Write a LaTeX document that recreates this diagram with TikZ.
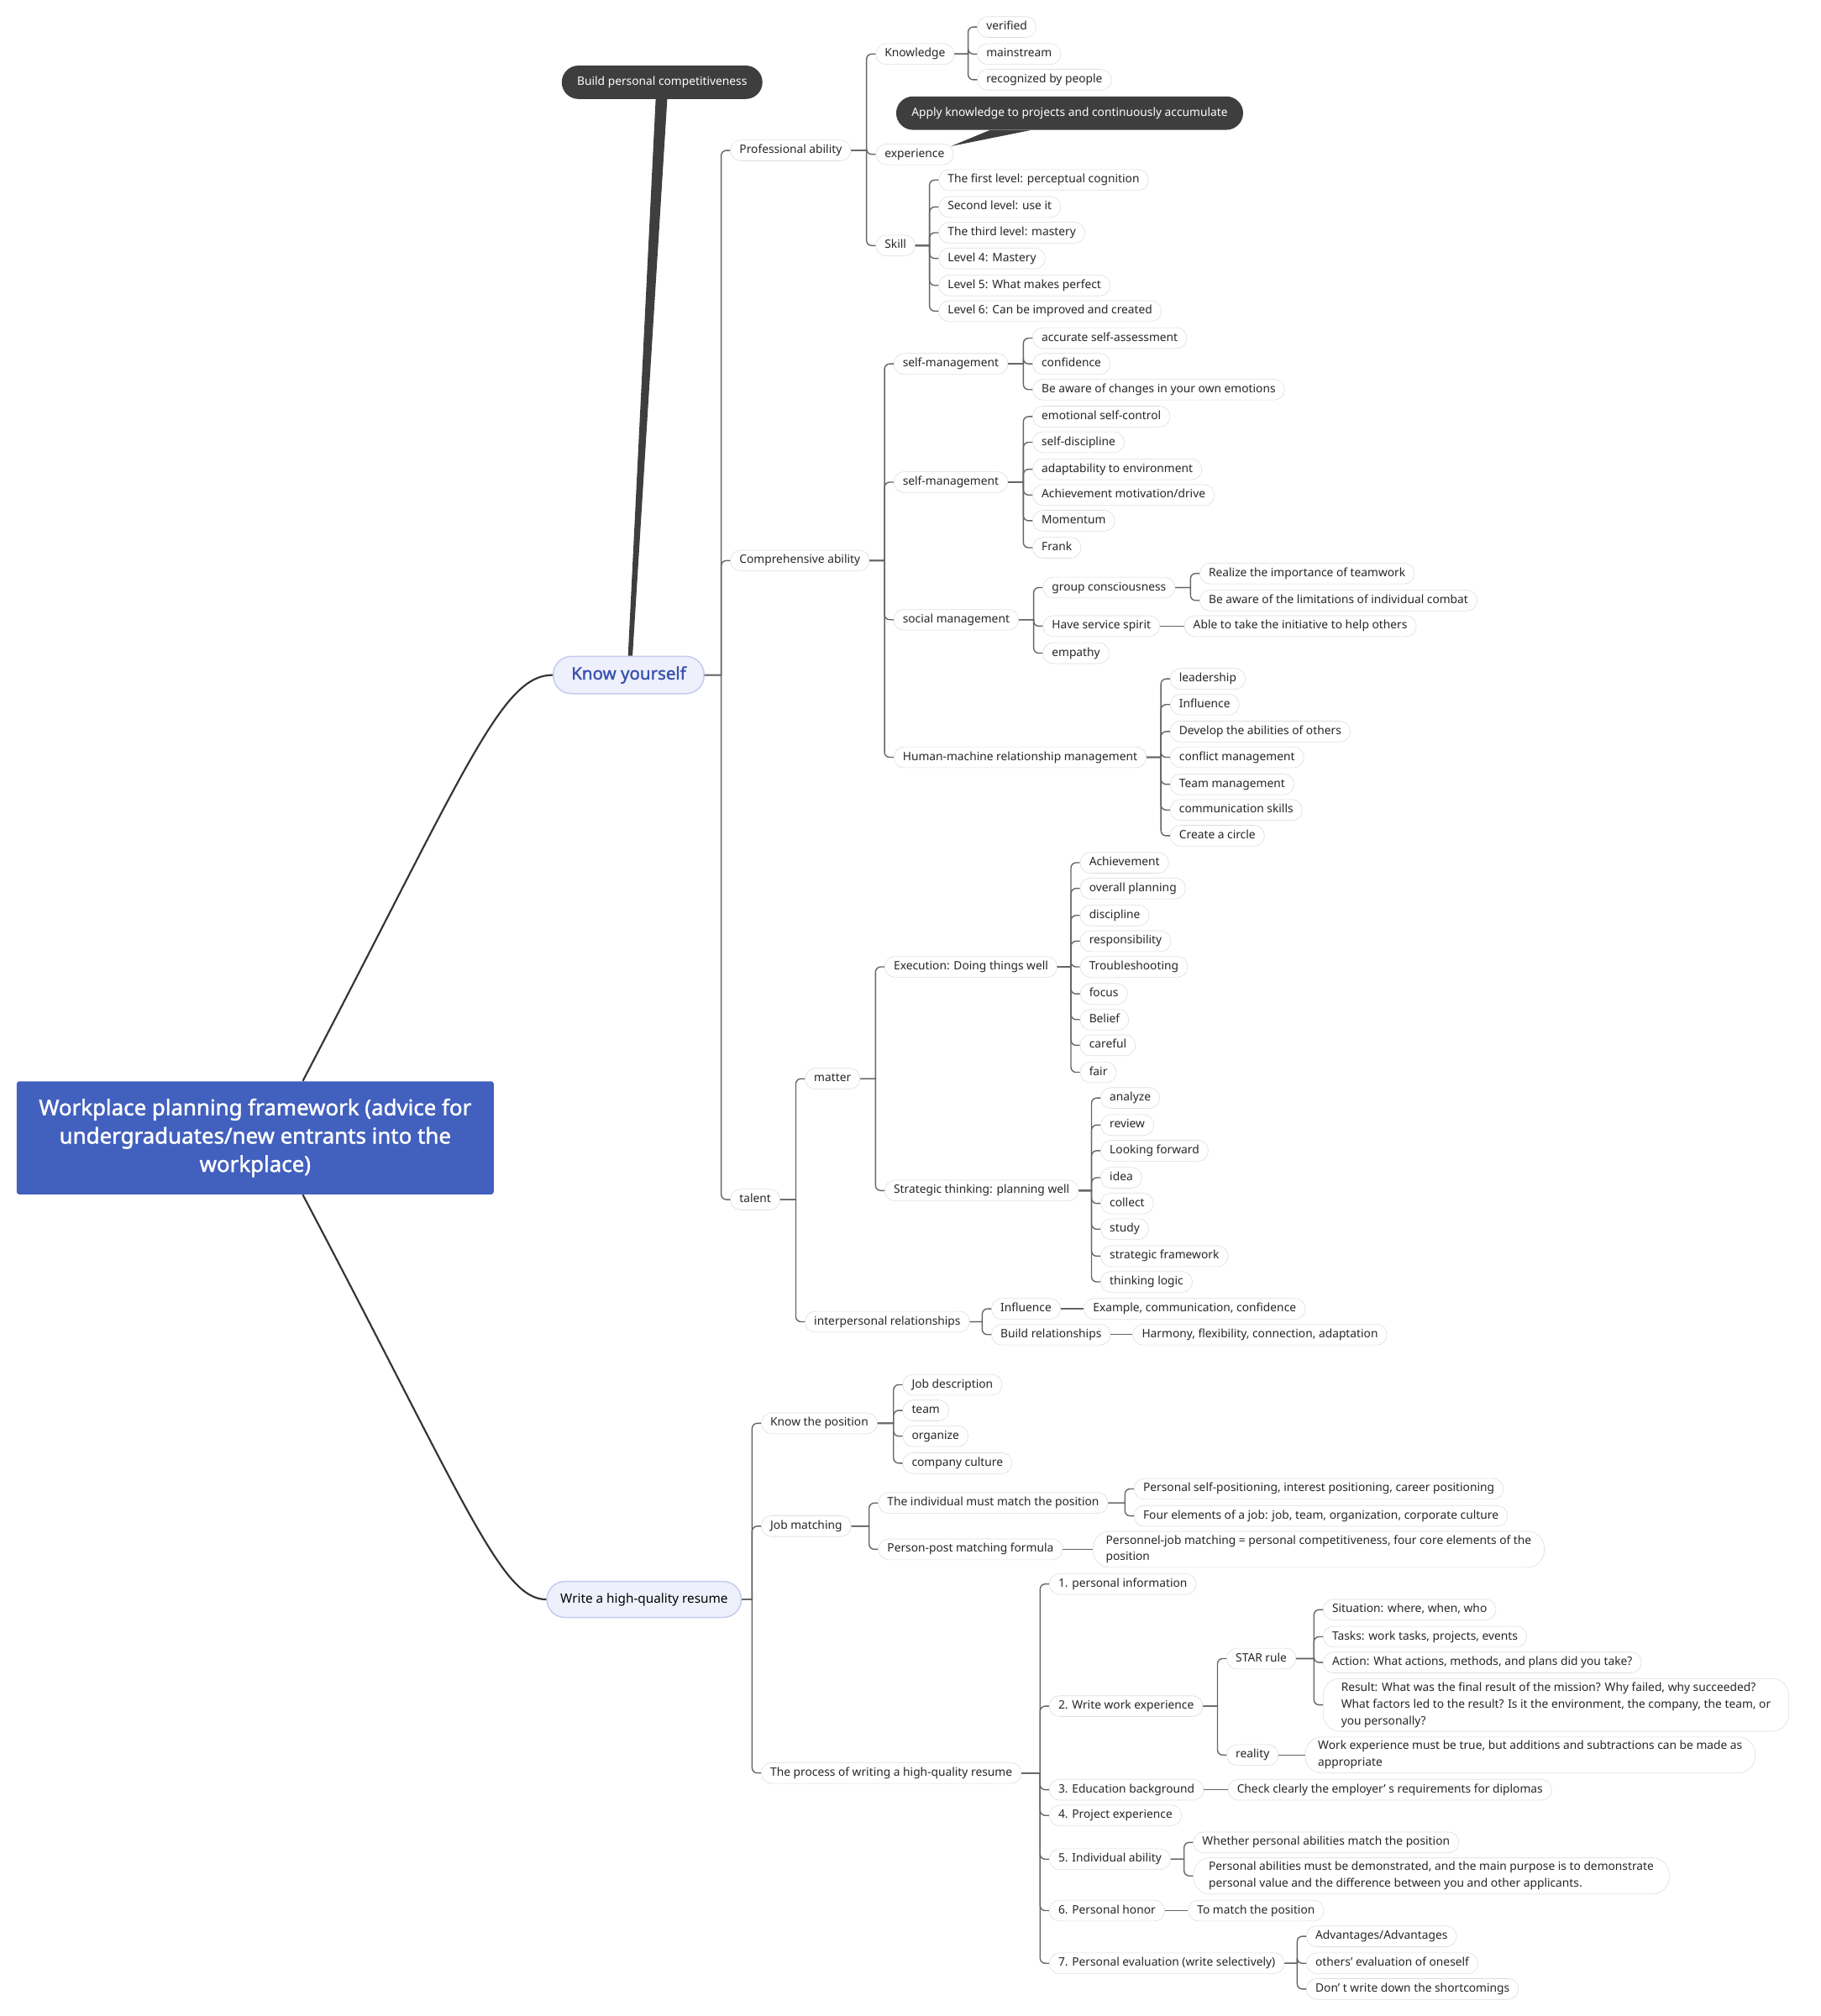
\documentclass[tikz,border=0pt]{standalone}
\usepackage{fontspec}
\setmainfont{Noto Sans}
\newfontfamily\heavysans{Noto Sans}[FakeBold=1.6]
\definecolor{rootblue}{RGB}{66,96,189}
\definecolor{kyfill}{RGB}{238,240,252}
\definecolor{kyline}{RGB}{198,204,238}
\definecolor{kytext}{RGB}{58,84,176}
\definecolor{darknote}{RGB}{62,62,62}
\definecolor{linegray}{RGB}{100,100,100}
\definecolor{pillline}{RGB}{222,222,222}

\begin{document}
\begin{tikzpicture}[x=1pt,y=-1pt,
	pill/.style={draw=pillline, fill=white, rounded corners=8pt, anchor=west, inner xsep=7pt, inner ysep=3.6pt, text=black!85, font=\fontsize{9}{13}\selectfont},
	leaf/.style={pill, text height=6.8pt, text depth=2.2pt},
	para/.style={pill, align=left, rounded corners=13pt, inner xsep=10pt, inner ysep=3pt},
	topic/.style={draw=kyline, fill=kyfill, line width=1pt, rounded corners=14pt, inner xsep=14pt, minimum height=29pt},
	note/.style={fill=darknote, text=white, rounded corners=13pt, minimum height=26pt, inner xsep=12pt, font=\fontsize{9}{11}\selectfont},
	link/.style={linegray, line width=0.9pt, to path={(\tikztostart.east) -- ([xshift=-7pt]\tikztotarget.west |- \tikztostart.east) [rounded corners=4pt] |- (\tikztotarget.west)}},
	plain/.style={linegray, line width=0.9pt},
	trunk/.style={black!80, line width=1.4pt}]
	\useasboundingbox (0,-1) rectangle (1416,1567);

	\node[fill=rootblue, text=white, rounded corners=2pt, minimum width=371pt, minimum height=88pt, align=center, font=\heavysans\fontsize{16.9}{22}\selectfont] (root) at (198.5,884) {Workplace planning framework (advice for\\undergraduates/new entrants into the\\workplace)};
	\node[topic, text=kytext, font=\heavysans\fontsize{13.4}{15}\selectfont] (know) at (489,524) {Know yourself};
	\node[topic, minimum height=28pt, inner xsep=10.5pt, font=\fontsize{10}{12}\selectfont] (resume) at (501,1243) {Write a high-quality resume};
	\node[note] (bpc) at (515,63) {Build personal competitiveness};

	\draw[trunk] ([xshift=37pt]root.north) .. controls (363,596) and (390,524) .. (know.west);
	\draw[trunk] ([xshift=37pt]root.south) .. controls (363,1170) and (390,1243) .. (resume.west);
	\fill[darknote] ([xshift=-5pt]bpc.south) -- ([xshift=4pt]bpc.south) -- ([xshift=3pt]know.north) -- ([xshift=-0.5pt]know.north) -- cycle;

	\node[leaf] (pro) at (568,116) {Professional ability};
	\node[leaf] (comp) at (568,435) {Comprehensive ability};
	\node[leaf] (tal) at (568,932) {talent};

	\node[leaf] (kn) at (681,41) {Knowledge};
	\node[leaf] (exp) at (681,119) {experience};
	\node[leaf] (skill) at (681,190) {Skill};
	\node[leaf] (kn1) at (760,20) {verified};
	\node[leaf] (kn2) at (760,41) {mainstream};
	\node[leaf] (kn3) at (760,61) {recognized by people};
	\node[note] (apply) at (832,87) {Apply knowledge to projects and continuously accumulate};
	\fill[darknote] ([xshift=-62pt]apply.south) -- ([xshift=-30pt]apply.south) -- ([xshift=-2pt,yshift=-2pt]exp.north east) -- cycle;
	\node[leaf] (sk1) at (730,139) {The first level: perceptual cognition};
	\node[leaf] (sk2) at (730,160) {Second level: use it};
	\node[leaf] (sk3) at (730,180) {The third level: mastery};
	\node[leaf] (sk4) at (730,200) {Level 4: Mastery};
	\node[leaf] (sk5) at (730,221) {Level 5: What makes perfect};
	\node[leaf] (sk6) at (730,241) {Level 6: Can be improved and created};

	\node[leaf] (sm1) at (695,282) {self-management};
	\node[leaf] (sm2) at (695,374) {self-management};
	\node[leaf] (soc) at (695,481) {social management};
	\node[leaf] (hm) at (695,588) {Human-machine relationship management};
	\node[leaf] (a1) at (803,262) {accurate self-assessment};
	\node[leaf] (a2) at (803,282) {confidence};
	\node[leaf] (a3) at (803,302) {Be aware of changes in your own emotions};
	\node[leaf] (b1) at (803,323) {emotional self-control};
	\node[leaf] (b2) at (803,343) {self-discipline};
	\node[leaf] (b3) at (803,364) {adaptability to environment};
	\node[leaf] (b4) at (803,384) {Achievement motivation/drive};
	\node[leaf] (b5) at (803,404) {Momentum};
	\node[leaf] (b6) at (803,425) {Frank};
	\node[leaf] (grp) at (811,456) {group consciousness};
	\node[leaf] (serv) at (811,486) {Have service spirit};
	\node[leaf] (emp) at (811,507) {empathy};
	\node[leaf] (g1) at (933,445) {Realize the importance of teamwork};
	\node[leaf] (g2) at (933,466) {Be aware of the limitations of individual combat};
	\node[leaf] (serv1) at (921,486) {Able to take the initiative to help others};
	\node[leaf] (h1) at (910,527) {leadership};
	\node[leaf] (h2) at (910,547) {Influence};
	\node[leaf] (h3) at (910,568) {Develop the abilities of others};
	\node[leaf] (h4) at (910,588) {conflict management};
	\node[leaf] (h5) at (910,609) {Team management};
	\node[leaf] (h6) at (910,629) {communication skills};
	\node[leaf] (h7) at (910,649) {Create a circle};

	\node[leaf] (mat) at (626,838) {matter};
	\node[leaf] (inter) at (626,1027) {interpersonal relationships};
	\node[leaf] (exe) at (688,751) {Execution: Doing things well};
	\node[leaf] (stra) at (688,925) {Strategic thinking: planning well};
	\node[leaf] (e1) at (840,670) {Achievement};
	\node[leaf] (e2) at (840,690) {overall planning};
	\node[leaf] (e3) at (840,711) {discipline};
	\node[leaf] (e4) at (840,731) {responsibility};
	\node[leaf] (e5) at (840,751) {Troubleshooting};
	\node[leaf] (e6) at (840,772) {focus};
	\node[leaf] (e7) at (840,792) {Belief};
	\node[leaf] (e8) at (840,812) {careful};
	\node[leaf] (e9) at (840,833) {fair};
	\node[leaf] (t1) at (856,853) {analyze};
	\node[leaf] (t2) at (856,874) {review};
	\node[leaf] (t3) at (856,894) {Looking forward};
	\node[leaf] (t4) at (856,915) {idea};
	\node[leaf] (t5) at (856,935) {collect};
	\node[leaf] (t6) at (856,955) {study};
	\node[leaf] (t7) at (856,976) {strategic framework};
	\node[leaf] (t8) at (856,996) {thinking logic};
	\node[leaf] (infl) at (771,1017) {Influence};
	\node[leaf] (build) at (771,1037) {Build relationships};
	\node[leaf] (infl1) at (843,1017) {Example, communication, confidence};
	\node[leaf] (build1) at (881,1037) {Harmony, flexibility, connection, adaptation};

	\node[leaf] (pos) at (592,1106) {Know the position};
	\node[leaf] (job) at (592,1186) {Job matching};
	\node[leaf] (proc) at (592,1378) {The process of writing a high-quality resume};
	\node[leaf] (p1) at (702,1076) {Job description};
	\node[leaf] (p2) at (702,1096) {team};
	\node[leaf] (p3) at (702,1116) {organize};
	\node[leaf] (p4) at (702,1137) {company culture};
	\node[leaf] (indiv) at (683,1168) {The individual must match the position};
	\node[leaf] (form) at (683,1204) {Person-post matching formula};
	\node[leaf] (i1) at (882,1157) {Personal self-positioning, interest positioning, career positioning};
	\node[leaf] (i2) at (882,1178) {Four elements of a job: job, team, organization, corporate culture};
	\node[para] (form1) at (850,1204) {Personnel-job matching = personal competitiveness, four core elements of the\\position};
	\node[leaf] (r1) at (816,1231) {1. personal information};
	\node[leaf] (r2) at (816,1326) {2. Write work experience};
	\node[leaf] (r3) at (816,1391) {3. Education background};
	\node[leaf] (r4) at (816,1411) {4. Project experience};
	\node[leaf] (r5) at (816,1445) {5. Individual ability};
	\node[leaf] (r6) at (816,1485) {6. Personal honor};
	\node[leaf] (r7) at (816,1526) {7. Personal evaluation (write selectively)};
	\node[leaf] (star) at (954,1289) {STAR rule};
	\node[leaf] (real) at (954,1364) {reality};
	\node[leaf] (st1) at (1029,1251) {Situation: where, when, who};
	\node[leaf] (st2) at (1029,1272) {Tasks: work tasks, projects, events};
	\node[leaf] (st3) at (1029,1292) {Action: What actions, methods, and plans did you take?};
	\node[para, inner xsep=14pt] (st4) at (1029,1325) {Result: What was the final result of the mission? Why failed, why succeeded?\\What factors led to the result? Is it the environment, the company, the team, or\\you personally?};
	\node[para] (real1) at (1015,1364) {Work experience must be true, but additions and subtractions can be made as\\appropriate};
	\node[leaf] (edu1) at (955,1391) {Check clearly the employer’ s requirements for diplomas};
	\node[leaf] (ab1) at (928,1432) {Whether personal abilities match the position};
	\node[para, inner xsep=12pt] (ab2) at (928,1458) {Personal abilities must be demonstrated, and the main purpose is to demonstrate\\personal value and the difference between you and other applicants.};
	\node[leaf] (hon1) at (924,1485) {To match the position};
	\node[leaf] (ev1) at (1016,1505) {Advantages/Advantages};
	\node[leaf] (ev2) at (1016,1526) {others’ evaluation of oneself};
	\node[leaf] (ev3) at (1016,1546) {Don’ t write down the shortcomings};

	\draw[link] (know) to (pro); \draw[link] (know) to (comp); \draw[link] (know) to (tal);
	\draw[link] (pro) to (kn); \draw[link] (pro) to (exp); \draw[link] (pro) to (skill);
	\draw[link] (kn) to (kn1); \draw[link] (kn) to (kn2); \draw[link] (kn) to (kn3);
	\draw[link] (skill) to (sk1); \draw[link] (skill) to (sk2); \draw[link] (skill) to (sk3);
	\draw[link] (skill) to (sk4); \draw[link] (skill) to (sk5); \draw[link] (skill) to (sk6);
	\draw[link] (comp) to (sm1); \draw[link] (comp) to (sm2); \draw[link] (comp) to (soc); \draw[link] (comp) to (hm);
	\draw[link] (sm1) to (a1); \draw[link] (sm1) to (a2); \draw[link] (sm1) to (a3);
	\draw[link] (sm2) to (b1); \draw[link] (sm2) to (b2); \draw[link] (sm2) to (b3);
	\draw[link] (sm2) to (b4); \draw[link] (sm2) to (b5); \draw[link] (sm2) to (b6);
	\draw[link] (soc) to (grp); \draw[link] (soc) to (serv); \draw[link] (soc) to (emp);
	\draw[link] (grp) to (g1); \draw[link] (grp) to (g2);
	\draw[plain] (serv) -- (serv1);
	\draw[link] (hm) to (h1); \draw[link] (hm) to (h2); \draw[link] (hm) to (h3); \draw[link] (hm) to (h4);
	\draw[link] (hm) to (h5); \draw[link] (hm) to (h6); \draw[link] (hm) to (h7);
	\draw[link] (tal) to (mat); \draw[link] (tal) to (inter);
	\draw[link] (mat) to (exe); \draw[link] (mat) to (stra);
	\draw[link] (exe) to (e1); \draw[link] (exe) to (e2); \draw[link] (exe) to (e3);
	\draw[link] (exe) to (e4); \draw[link] (exe) to (e5); \draw[link] (exe) to (e6);
	\draw[link] (exe) to (e7); \draw[link] (exe) to (e8); \draw[link] (exe) to (e9);
	\draw[link] (stra) to (t1); \draw[link] (stra) to (t2); \draw[link] (stra) to (t3); \draw[link] (stra) to (t4);
	\draw[link] (stra) to (t5); \draw[link] (stra) to (t6); \draw[link] (stra) to (t7); \draw[link] (stra) to (t8);
	\draw[link] (inter) to (infl); \draw[link] (inter) to (build);
	\draw[plain] (infl) -- (infl1); \draw[plain] (build) -- (build1);

	\draw[link] (resume) to (pos); \draw[link] (resume) to (job); \draw[link] (resume) to (proc);
	\draw[link] (pos) to (p1); \draw[link] (pos) to (p2); \draw[link] (pos) to (p3); \draw[link] (pos) to (p4);
	\draw[link] (job) to (indiv); \draw[link] (job) to (form);
	\draw[link] (indiv) to (i1); \draw[link] (indiv) to (i2);
	\draw[plain] (form) -- (form1);
	\draw[link] (proc) to (r1); \draw[link] (proc) to (r2); \draw[link] (proc) to (r3); \draw[link] (proc) to (r4);
	\draw[link] (proc) to (r5); \draw[link] (proc) to (r6); \draw[link] (proc) to (r7);
	\draw[link] (r2) to (star); \draw[link] (r2) to (real);
	\draw[link] (star) to (st1); \draw[link] (star) to (st2); \draw[link] (star) to (st3); \draw[link] (star) to (st4);
	\draw[plain] (real) -- (real1);
	\draw[plain] (r3) -- (edu1);
	\draw[link] (r5) to (ab1); \draw[link] (r5) to (ab2);
	\draw[plain] (r6) -- (hon1);
	\draw[link] (r7) to (ev1); \draw[link] (r7) to (ev2); \draw[link] (r7) to (ev3);
\end{tikzpicture}
\end{document}
